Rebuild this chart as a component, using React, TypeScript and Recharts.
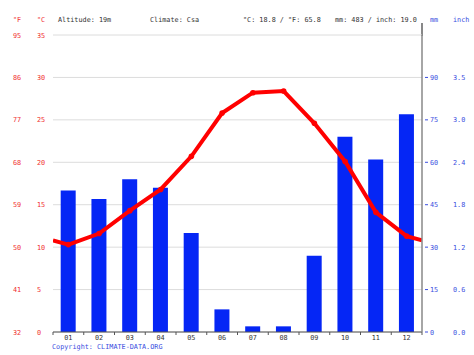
import React from 'react';
import {
  ComposedChart,
  Bar,
  Line,
  XAxis,
  YAxis,
  CartesianGrid,
} from 'recharts';

const months = ['01', '02', '03', '04', '05', '06', '07', '08', '09', '10', '11', '12'];
const precipMm = [50, 47, 54, 51, 35, 8, 2, 2, 27, 69, 61, 77];
const tempC = [10.3, 11.6, 14.3, 16.8, 20.7, 25.8, 28.2, 28.4, 24.6, 20.1, 14.1, 11.3];
// where the temperature line meets the left / right border of the plot
const edgeTempC = [10.8, 10.8];

const cTicks = [0, 5, 10, 15, 20, 25, 30, 35];
const fLabels = ['32', '41', '50', '59', '68', '77', '86', '95'];
const mmTicks = [0, 15, 30, 45, 60, 75, 90];
const inchLabels = ['0.0', '0.6', '1.2', '1.8', '2.4', '3.0', '3.5'];

const data = [
  { x: 0.5, temp: edgeTempC[0] },
  ...months.map((m, i) => ({ x: i + 1, month: m, precip: precipMm[i], temp: tempC[i] })),
  { x: 12.5, temp: edgeTempC[1] },
];

const FONT = '"DejaVu Sans Mono", monospace';
const RED = '#f03030';
const LINE_RED = '#ff0000';
const BLUE = '#3a4ee0';
const HALF_BAND = 369 / 12 / 2;

const LeftTick = (props: any) => {
  const { y, payload } = props;
  const i = cTicks.indexOf(payload.value);
  return (
    <g fontFamily={FONT} fontSize={6.8} fill={RED}>
      <text x={13} y={y} dy={2.5}>{fLabels[i]}</text>
      <text x={37} y={y} dy={2.5}>{payload.value}</text>
    </g>
  );
};

const RightTick = (props: any) => {
  const { y, payload } = props;
  const i = mmTicks.indexOf(payload.value);
  return (
    <g fontFamily={FONT} fontSize={6.8} fill={BLUE}>
      <line x1={425} x2={428} y1={y} y2={y} stroke={BLUE} />
      <text x={430} y={y} dy={2.5}>{payload.value}</text>
      <text x={453} y={y} dy={2.5}>{inchLabels[i]}</text>
    </g>
  );
};

const MonthTick = (props: any) => {
  const { x, payload } = props;
  const v = payload.value;
  return (
    <g>
      <line x1={x - HALF_BAND} x2={x - HALF_BAND} y1={332} y2={335} stroke="#555" />
      {v === 12 && <line x1={x + HALF_BAND} x2={x + HALF_BAND} y1={332} y2={335} stroke="#555" />}
      <text x={x} y={340} textAnchor="middle" fontFamily={FONT} fontSize={6.8} fill="#333">
        {months[v - 1]}
      </text>
    </g>
  );
};

const TempDot = (props: any) => {
  const { cx, cy, payload } = props;
  if (!payload.month) return <g key={props.index} />;
  return <circle key={props.index} cx={cx} cy={cy} r={2.8} fill={LINE_RED} />;
};

const headerStyle: React.CSSProperties = {
  position: 'absolute',
  top: 16,
  fontFamily: FONT,
  fontSize: 6.8,
  lineHeight: '8px',
  whiteSpace: 'pre',
};

export default function App() {
  return (
    <div style={{ position: 'relative', width: 474, height: 355, background: '#fff' }}>
      <style>{'body{margin:0}'}</style>
      <span style={{ ...headerStyle, left: 13, color: RED }}>°F</span>
      <span style={{ ...headerStyle, left: 37, color: RED }}>°C</span>
      <span style={{ ...headerStyle, left: 58, color: '#333' }}>Altitude: 19m</span>
      <span style={{ ...headerStyle, left: 150, color: '#333' }}>Climate: Csa</span>
      <span style={{ ...headerStyle, left: 243, color: '#333' }}>°C: 18.8 / °F: 65.8</span>
      <span style={{ ...headerStyle, left: 335, color: '#333' }}>mm: 483 / inch: 19.0</span>
      <span style={{ ...headerStyle, left: 430, color: BLUE }}>mm</span>
      <span style={{ ...headerStyle, left: 453, color: BLUE }}>inch</span>
      <span style={{ ...headerStyle, top: 343, left: 52, color: BLUE }}>Copyright: CLIMATE-DATA.ORG</span>
      {/* the right axis rises a little above the plot */}
      <div style={{ position: 'absolute', left: 421.25, top: 23, width: 1.5, height: 13, background: '#888' }} />
      <ComposedChart
        width={474}
        height={355}
        data={data}
        margin={{ top: 35, right: 0, bottom: 0, left: 0 }}
      >
        <CartesianGrid yAxisId="c" vertical={false} stroke="#dcdcdc" />
        <XAxis
          type="number"
          dataKey="x"
          domain={[0.5, 12.5]}
          ticks={months.map((_, i) => i + 1)}
          allowDataOverflow
          height={23}
          axisLine={{ stroke: '#555' }}
          tickLine={false}
          tick={<MonthTick />}
        />
        <YAxis
          yAxisId="c"
          orientation="left"
          width={53}
          domain={[0, 35]}
          ticks={cTicks}
          axisLine={false}
          tickLine={false}
          tick={<LeftTick />}
        />
        <YAxis
          yAxisId="mm"
          orientation="right"
          width={52}
          domain={[0, 105]}
          ticks={mmTicks}
          axisLine={{ stroke: '#888', strokeWidth: 1.5 }}
          tickLine={false}
          tick={<RightTick />}
        />
        <Bar
          yAxisId="mm"
          dataKey="precip"
          fill="#0526f5"
          barSize={15}
          isAnimationActive={false}
        />
        <Line
          yAxisId="c"
          type="linear"
          dataKey="temp"
          stroke={LINE_RED}
          strokeWidth={4}
          dot={<TempDot />}
          activeDot={false}
          isAnimationActive={false}
        />
      </ComposedChart>
    </div>
  );
}
